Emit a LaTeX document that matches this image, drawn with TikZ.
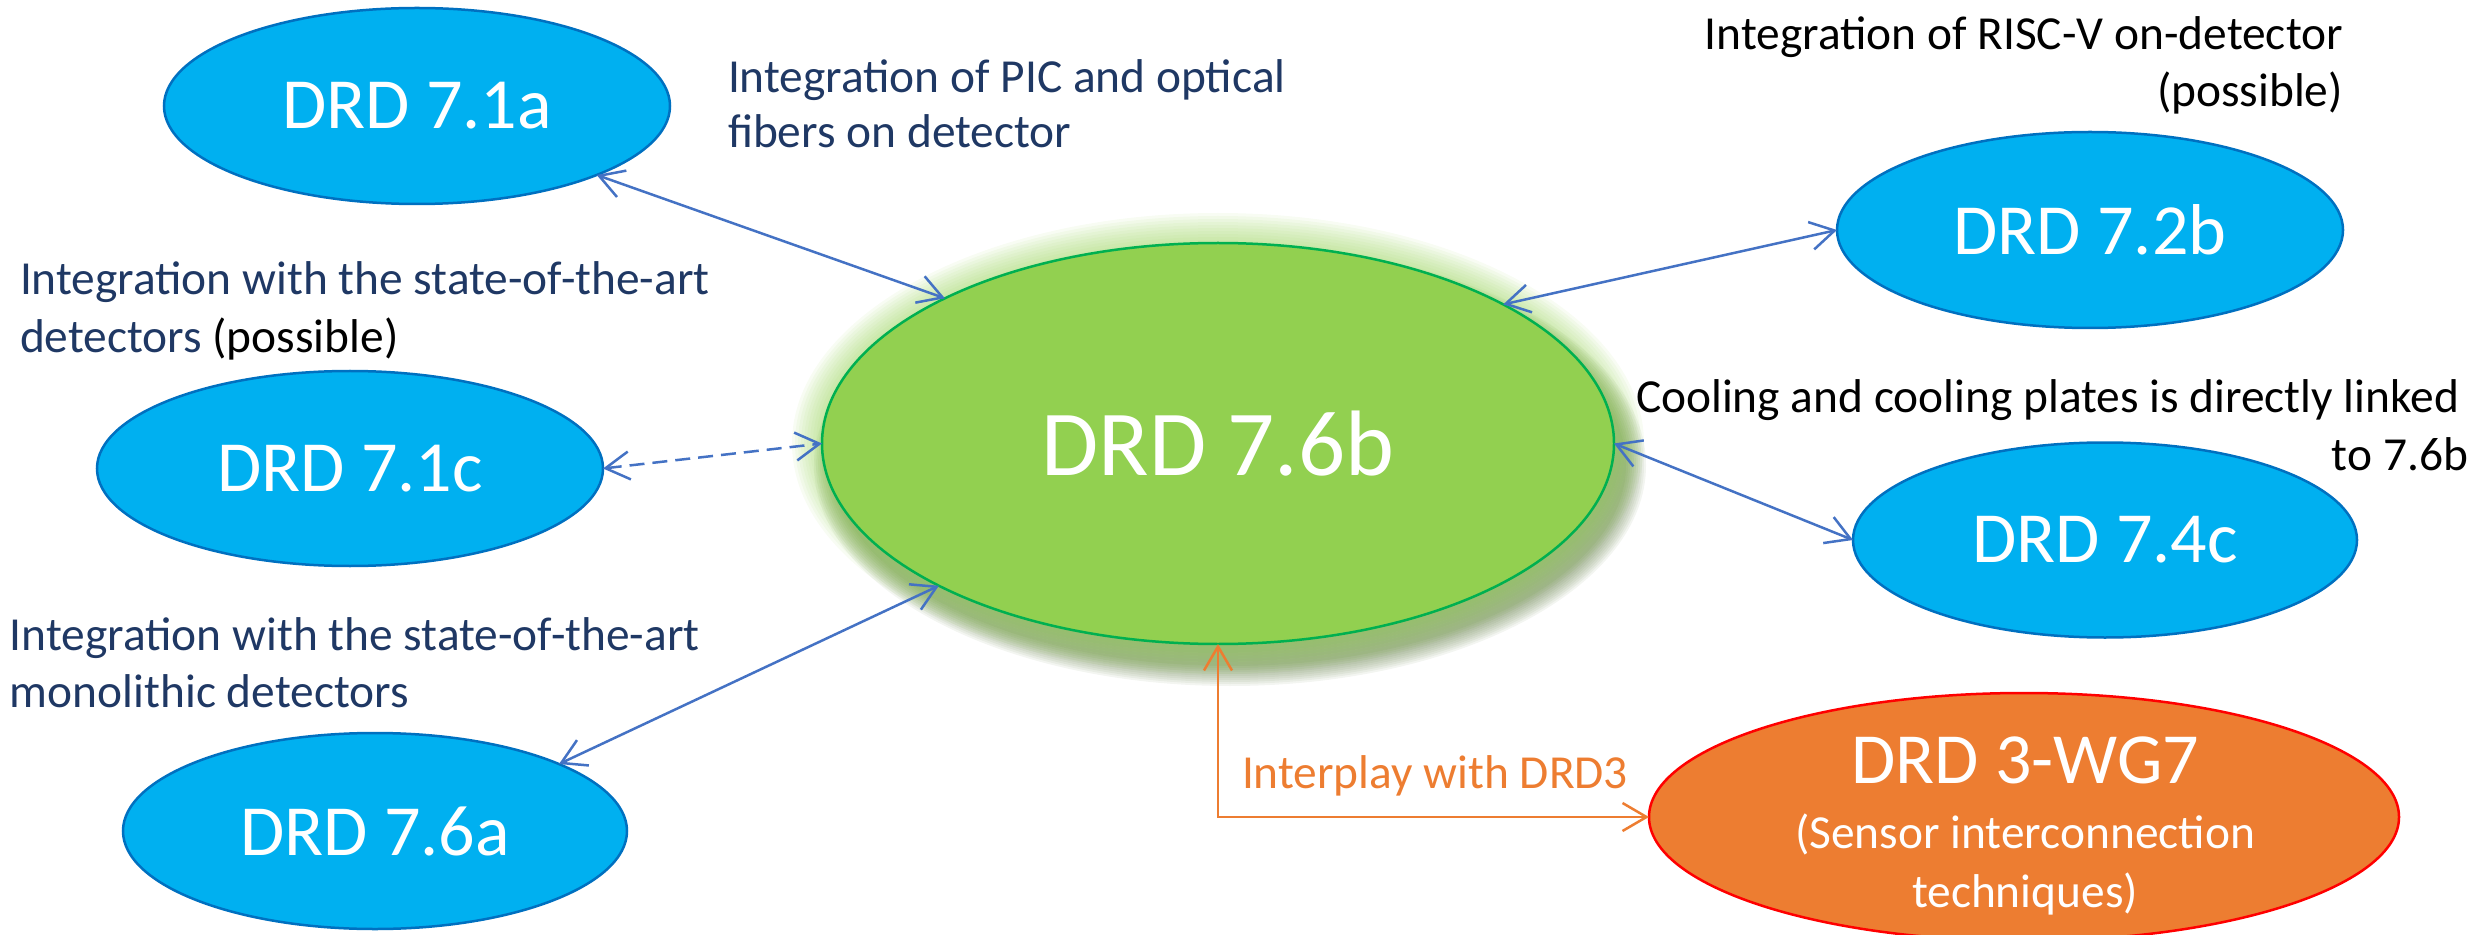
\documentclass[tikz,border=0pt]{standalone}
\usepackage{fontspec}
\setmainfont{Carlito}
\usetikzlibrary{arrows.meta,shapes.geometric}

\definecolor{drdblue}{RGB}{0,176,240}
\definecolor{drdblueline}{RGB}{0,112,192}
\definecolor{drdgreen}{RGB}{146,208,80}
\definecolor{drdgreenline}{RGB}{0,176,80}
\definecolor{drdorange}{RGB}{237,125,49}
\definecolor{linkblue}{RGB}{68,114,196}
\definecolor{navytext}{RGB}{31,56,100}
\definecolor{shadowgreen}{RGB}{85,115,55}

\begin{document}
\begin{tikzpicture}[x=0.5pt,y=-0.5pt,
  >={Straight Barb[length=12pt,width=14pt]},
  wp/.style={ellipse, inner sep=0pt, outer sep=0pt, line width=1.25pt, text=white},
  bluewp/.style={wp, fill=drdblue, draw=drdblueline, font=\fontsize{36}{43}\selectfont},
  note/.style={inner sep=0pt, outer sep=0pt, font=\fontsize{23.7}{28.5}\selectfont},
  wgtext/.style={inner sep=0pt, outer sep=0pt, text=white, anchor=base},
  link/.style={draw=linkblue, line width=1.25pt, <->},
  dashlink/.style={link, dash pattern=on 7.5pt off 4pt},
  interplay/.style={draw=drdorange, line width=1.25pt, <->},
]
\useasboundingbox (0,0) rectangle (2478,935);

% soft drop shadow (lower right) and light glow behind the central work package
\coordinate (hubc) at (1218,443.5);
\foreach \k in {0,...,10}
  \fill[shadowgreen, opacity=0.07] ([xshift=6pt,yshift=-11pt]hubc)
    ellipse[x radius={198pt+1pt*\k}, y radius={100.25pt+1pt*\k}];
\foreach \k in {1,...,10}
  \fill[drdgreen, opacity=0.065] (hubc)
    ellipse[x radius={198pt+1.5pt*\k}, y radius={100.25pt+1.5pt*\k}];

% work packages
\node[wp, fill=drdgreen, draw=drdgreenline, minimum width=396pt, minimum height=200.5pt,
      font=\fontsize{46.5}{56}\selectfont] (hub) at (hubc) {DRD 7.6b};
\node[bluewp, minimum width=253pt, minimum height=98pt]   (wp71a) at (417,106)   {DRD 7.1a};
\node[bluewp, minimum width=253pt, minimum height=97.5pt] (wp71c) at (350,468.5) {DRD 7.1c};
\node[bluewp, minimum width=252pt, minimum height=98pt]   (wp76a) at (375,831)   {DRD 7.6a};
\node[bluewp, minimum width=253pt, minimum height=98pt]   (wp72b) at (2090,230)  {DRD 7.2b};
\node[bluewp, minimum width=252pt, minimum height=97.5pt] (wp74c) at (2105,540)  {DRD 7.4c};
\node[wp, fill=drdorange, draw=red, minimum width=375pt, minimum height=124pt] (wg7) at (2024,817) {};
\node[wgtext, font=\fontsize{36}{43}\selectfont] (wg7a) at (2025,783) {DRD 3-WG7};
\node[wgtext, font=\fontsize{23.7}{28.5}\selectfont] (wg7b) at (2025,848) {(Sensor interconnection};
\node[wgtext, font=\fontsize{23.7}{28.5}\selectfont] (wg7c) at (2025,907) {techniques)};

% links
\draw[link] (wp71a.-21) -- (hub.152.8);
\draw[dashlink] (wp71c.0) -- (hub.180);
\draw[link] (wp76a.20.6) -- (hub.-153.1);
\draw[link] (wp72b.180) -- (hub.26.6);
\draw[link] (wp74c.180) -- (hub.0);
\draw[interplay] (hub.south) |- (wg7.west);

% annotations
\node[note, text=navytext, anchor=base west] (n1a) at (728,93)  {Integration of PIC and optical};
\node[note, text=navytext, anchor=base west] (n1b) at (728,148) {fibers on detector};
\node[note, anchor=base east] (n2a) at (2343,50)  {Integration of RISC-V on-detector};
\node[note, anchor=base east] (n2b) at (2343,107) {(possible)};
\node[note, text=navytext, anchor=base west] (n3a) at (20,295) {Integration with the state-of-the-art};
\node[note, anchor=base west] (n3b) at (20,353) {\textcolor{navytext}{detectors} (possible)};
\node[note, anchor=base west] (n4a) at (1636,413) {Cooling and cooling plates is directly linked};
\node[note, anchor=base east] (n4b) at (2468,470) {to 7.6b};
\node[note, text=navytext, anchor=base west] (n5a) at (10,650) {Integration with the state-of-the-art};
\node[note, text=navytext, anchor=base west] (n5b) at (10,707) {monolithic detectors};
\node[note, text=drdorange, anchor=base west] (n6) at (1242,788) {Interplay with DRD3};
\end{tikzpicture}
\end{document}
